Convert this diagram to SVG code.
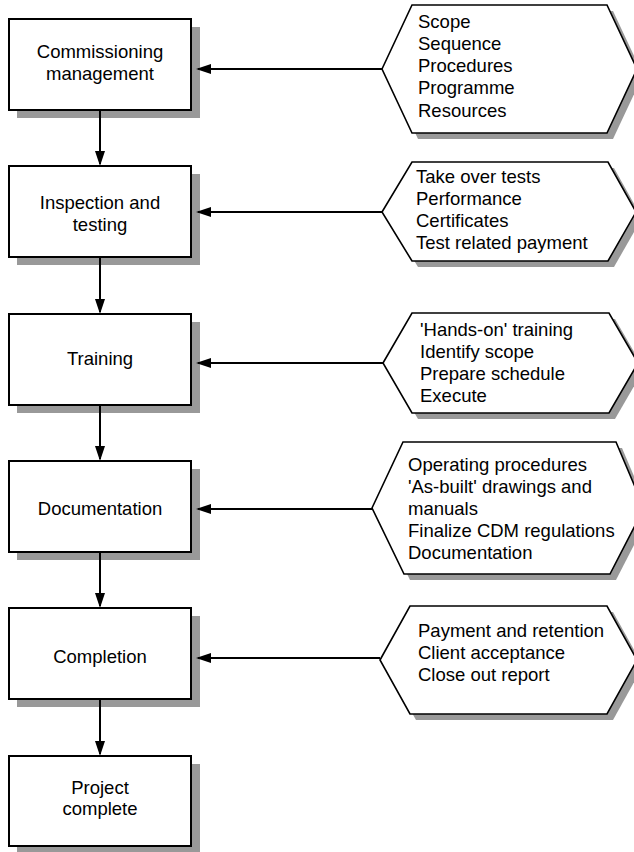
<svg xmlns="http://www.w3.org/2000/svg" width="634" height="852" viewBox="0 0 634 852">
  <style>
    .bg { fill: #ffffff; }
    .shadow { fill: #999999; stroke: none; }
    .box { fill: #ffffff; stroke: #000000; stroke-width: 2; }
    .hex { fill: #ffffff; stroke: #000000; stroke-width: 1.6; stroke-linejoin: miter; }
    .label { font-family: "Liberation Sans", Arial, Helvetica, sans-serif; font-size: 18.5px; fill: #000000; }
    .mid { text-anchor: middle; }
    .conn { stroke: #000000; stroke-width: 2; fill: none; }
  </style>
  <defs>
    <marker id="arrow" viewBox="0 0 15 10" refX="13" refY="5" markerWidth="15" markerHeight="10" markerUnits="userSpaceOnUse" orient="auto">
      <path d="M0,0 L15,5 L0,10 z" fill="#000000"/>
    </marker>
  </defs>

  <rect class="bg" x="0" y="0" width="634" height="852"/>

  <!-- process steps -->
  <g id="commissioning-management">
    <rect class="shadow" x="17" y="27" width="183" height="91"/>
    <rect class="box" x="9" y="19" width="182" height="91"/>
    <text class="label mid" x="100" y="58">Commissioning</text>
    <text class="label mid" x="100" y="80">management</text>
  </g>

  <g id="inspection-testing">
    <rect class="shadow" x="17" y="174" width="183" height="91"/>
    <rect class="box" x="9" y="166" width="182" height="91"/>
    <text class="label mid" x="100" y="209">Inspection and</text>
    <text class="label mid" x="100" y="231">testing</text>
  </g>

  <g id="training">
    <rect class="shadow" x="17" y="322" width="183" height="91"/>
    <rect class="box" x="9" y="314" width="182" height="91"/>
    <text class="label mid" x="100" y="365">Training</text>
  </g>

  <g id="documentation">
    <rect class="shadow" x="17" y="469" width="183" height="91"/>
    <rect class="box" x="9" y="461" width="182" height="91"/>
    <text class="label mid" x="100" y="515">Documentation</text>
  </g>

  <g id="completion">
    <rect class="shadow" x="17" y="616" width="183" height="91"/>
    <rect class="box" x="9" y="608" width="182" height="91"/>
    <text class="label mid" x="100" y="663">Completion</text>
  </g>

  <g id="project-complete">
    <rect class="shadow" x="17" y="764" width="183" height="91"/>
    <rect class="box" x="9" y="756" width="182" height="90"/>
    <text class="label mid" x="100" y="794">Project</text>
    <text class="label mid" x="100" y="815">complete</text>
  </g>

  <!-- input hexagons -->
  <g id="management-inputs">
    <polygon class="shadow" points="388,75 418,11 613,11 643,75 613,139 418,139"/>
    <polygon class="hex" points="382,69 412,5 607,5 637,69 607,133 412,133"/>
    <text class="label" x="418" y="28">Scope</text>
    <text class="label" x="418" y="50">Sequence</text>
    <text class="label" x="418" y="72">Procedures</text>
    <text class="label" x="418" y="94">Programme</text>
    <text class="label" x="418" y="117">Resources</text>
  </g>

  <g id="testing-inputs">
    <polygon class="shadow" points="388,218 418,168 614,168 642,218 614,267 418,267"/>
    <polygon class="hex" points="382,212 412,162 608,162 636,212 608,261 412,261"/>
    <text class="label" x="416" y="183">Take over tests</text>
    <text class="label" x="416" y="205">Performance</text>
    <text class="label" x="416" y="227">Certificates</text>
    <text class="label" x="416" y="249">Test related payment</text>
  </g>

  <g id="training-inputs">
    <polygon class="shadow" points="389,369 418,319 615,319 644,369 615,419 418,419"/>
    <polygon class="hex" points="383,363 412,313 609,313 638,363 609,413 412,413"/>
    <text class="label" x="420" y="336">'Hands-on' training</text>
    <text class="label" x="420" y="358">Identify scope</text>
    <text class="label" x="420" y="380">Prepare schedule</text>
    <text class="label" x="420" y="402">Execute</text>
  </g>

  <g id="documentation-inputs">
    <polygon class="shadow" points="378,514 409,448 622,448 650,514 616,580 410,580"/>
    <polygon class="hex" points="372,508 403,442 616,442 644,508 610,574 404,574"/>
    <text class="label" x="408" y="471">Operating procedures</text>
    <text class="label" x="408" y="493">'As-built' drawings and</text>
    <text class="label" x="408" y="515">manuals</text>
    <text class="label" x="408" y="537">Finalize CDM regulations</text>
    <text class="label" x="408" y="559">Documentation</text>
  </g>

  <g id="completion-inputs">
    <polygon class="shadow" points="386,666 416,612 613,612 643,666 613,720 416,720"/>
    <polygon class="hex" points="380,660 410,606 607,606 637,660 607,714 410,714"/>
    <text class="label" x="418" y="637">Payment and retention</text>
    <text class="label" x="418" y="659">Client acceptance</text>
    <text class="label" x="418" y="681">Close out report</text>
  </g>

  <!-- connectors -->
  <g id="connectors">
    <line class="conn" x1="100" y1="110" x2="100" y2="164" marker-end="url(#arrow)"/>
    <line class="conn" x1="100" y1="257" x2="100" y2="312" marker-end="url(#arrow)"/>
    <line class="conn" x1="100" y1="405" x2="100" y2="459" marker-end="url(#arrow)"/>
    <line class="conn" x1="100" y1="552" x2="100" y2="606" marker-end="url(#arrow)"/>
    <line class="conn" x1="100" y1="699" x2="100" y2="754" marker-end="url(#arrow)"/>

    <line class="conn" x1="382" y1="69" x2="198" y2="69" marker-end="url(#arrow)"/>
    <line class="conn" x1="382" y1="212" x2="198" y2="212" marker-end="url(#arrow)"/>
    <line class="conn" x1="383" y1="363" x2="198" y2="363" marker-end="url(#arrow)"/>
    <line class="conn" x1="372" y1="509" x2="198" y2="509" marker-end="url(#arrow)"/>
    <line class="conn" x1="380" y1="658" x2="198" y2="658" marker-end="url(#arrow)"/>
  </g>
</svg>
